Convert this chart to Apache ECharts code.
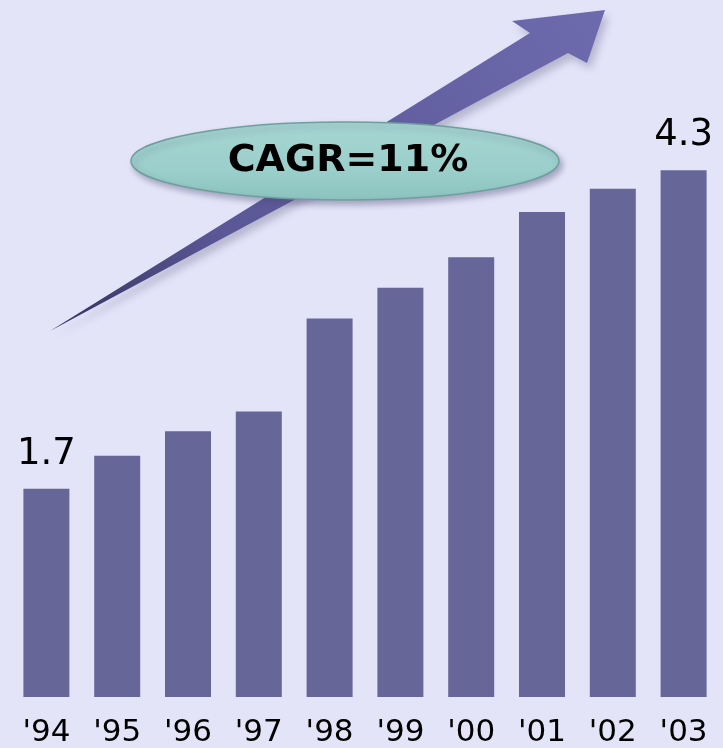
<!DOCTYPE html>
<html>
<head>
<meta charset="utf-8">
<script src="https://cdn.jsdelivr.net/npm/echarts@6/dist/echarts.min.js"></script>
<style>
  html, body { margin: 0; padding: 0; background: #e4e4f9; }
  #chart { width: 723px; height: 748px; }
</style>
</head>
<body>
<div id="chart"></div>
<script>
// 年份和数值
const years = ["'94", "'95", "'96", "'97", "'98", "'99", "'00", "'01", "'02", "'03"]
const values = [1.7, 1.97, 2.17, 2.33, 3.09, 3.34, 3.59, 3.96, 4.15, 4.3]
const labelledIdx = [0, 9]
const cagrText = 'CAGR=11%'

const chart = echarts.init(document.getElementById('chart'))

const barData = values.map((v, i) => ({
  value: v,
  label: { show: labelledIdx.includes(i) }
}))

const option = {
  backgroundColor: '#e4e4f9',
  animation: false,
  grid: { left: 11, right: 4, top: 84.5, bottom: 50 },
  xAxis: {
    type: 'category',
    data: years,
    axisLine: { show: false },
    axisTick: { show: false },
    axisLabel: {
      color: '#000',
      fontFamily: 'DejaVu Sans',
      fontSize: 31,
      margin: 20
    }
  },
  yAxis: {
    type: 'value',
    min: 0,
    max: 5,
    show: false,
    splitLine: { show: false }
  },
  series: [{
    type: 'bar',
    data: barData,
    barWidth: 46,
    itemStyle: { color: '#666699' },
    label: {
      position: 'top',
      distance: 16,
      color: '#000',
      fontFamily: 'DejaVu Sans',
      fontSize: 37
    }
  }],
  graphic: [
    // 箭头
    {
      type: 'polygon',
      z: 10,
      shape: {
        points: [[50, 331], [530, 33], [512, 21], [605, 10], [587, 63], [568, 53]]
      },
      style: {
        fill: {
          type: 'linear', x: 50, y: 331, x2: 605, y2: 10, global: true,
          colorStops: [
            { offset: 0, color: '#34325e' },
            { offset: 0.3, color: '#5a5796' },
            { offset: 1, color: '#6d6aae' }
          ]
        },
        shadowBlur: 8,
        shadowColor: 'rgba(70,70,110,0.3)',
        shadowOffsetX: 4,
        shadowOffsetY: 6
      }
    },
    // 椭圆
    {
      type: 'ellipse',
      z: 11,
      shape: { cx: 345, cy: 161, rx: 214, ry: 39 },
      style: {
        fill: {
          type: 'linear', x: 0, y: 0, x2: 0, y2: 1,
          colorStops: [
            { offset: 0, color: '#a6d6d2' },
            { offset: 0.6, color: '#9bcfcb' },
            { offset: 1, color: '#8cc3bf' }
          ]
        },
        stroke: '#6f9f9c',
        lineWidth: 1.5,
        shadowBlur: 6,
        shadowColor: 'rgba(70,70,110,0.4)',
        shadowOffsetX: 3,
        shadowOffsetY: 4
      }
    },
    {
      type: 'text',
      z: 12,
      x: 348,
      y: 161.5,
      style: {
        text: cagrText,
        fill: '#000',
        font: 'bold 38px "DejaVu Sans"',
        align: 'center',
        verticalAlign: 'middle'
      }
    }
  ]
}

chart.setOption(option)
</script>
</body>
</html>
